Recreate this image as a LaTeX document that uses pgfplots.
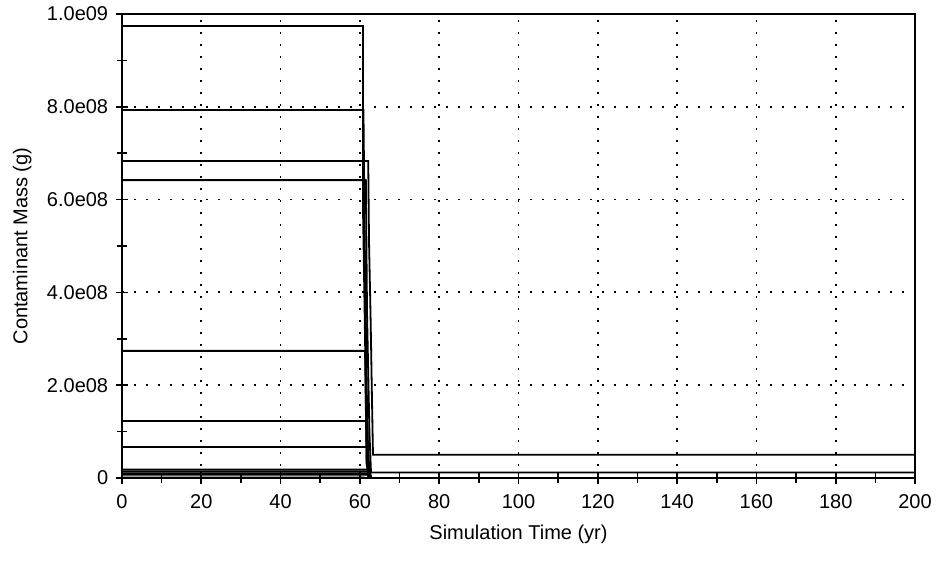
\documentclass[border=0pt]{standalone}
\usepackage{fontspec}
\setmainfont{Liberation Sans}
\usepackage{pgfplots}
\pgfplotsset{compat=1.18}
\begin{document}
\fontsize{20pt}{24pt}\selectfont
\begin{tikzpicture}[x=1pt,y=1pt]
\useasboundingbox (-122,-87) rectangle (816,478);
\begin{axis}[
  at={(0,0)}, anchor=south west,
  scale only axis, width=793pt, height=464pt,
  xmin=0, xmax=200, ymin=0, ymax=1e9,
  xtick={0,20,...,200},
  minor xtick={10,30,...,190},
  ytick={0,2e8,4e8,6e8,8e8,1e9},
  yticklabels={0,2.0e08,4.0e08,6.0e08,8.0e08,1.0e09},
  minor ytick={1e8,3e8,5e8,7e8,9e8},
  scaled y ticks=false,
  tick pos=left,
  tick align=center,
  major tick length=12pt, minor tick length=10pt,
  every tick/.style={black, line width=1.6pt},
  axis line style={black, line width=1.8pt},
  grid=major,
  major grid style={black, line width=1.8pt, dash pattern=on 1.8pt off 10.2pt},
  /pgf/number format/assume math mode=true,
  ticklabel style={font=\fontsize{20pt}{24pt}\selectfont},
  xticklabel style={yshift=-4pt},
  yticklabel style={xshift=-1pt},
  xlabel={Simulation Time (yr)},
  ylabel={Contaminant Mass (g)},
  label style={font=\fontsize{20pt}{24pt}\selectfont},
  xlabel style={yshift=-2pt},
  ylabel style={yshift=2pt},
  every axis plot post/.append style={black, solid, line width=1.8pt, mark=none},
]
% series: time (yr), mass (g)
\addplot coordinates {(0,9.74e8) (60.8,9.74e8) (60.8,5.7e8) (61.3,3.0e8) (61.7,0.4e8) (62.2,0) (200,0)};
\addplot coordinates {(0,7.93e8) (60.9,7.93e8) (61.2,5.2e8) (61.8,1.5e8) (62.2,0.1e8) (62.5,0) (200,0)};
\addplot coordinates {(0,6.83e8) (62.1,6.83e8) (62.3,5.1e8) (62.7,3.45e8) (63.05,1.68e8) (63.3,0.50e8) (200,0.50e8)};
\addplot coordinates {(0,6.42e8) (61.5,6.42e8) (61.8,3.56e8) (62.4,1.0e8) (62.8,0.12e8) (200,0.12e8)};
\addplot coordinates {(0,2.74e8) (61.3,2.74e8) (61.7,0.3e8) (62.3,0) (200,0)};
\addplot coordinates {(0,1.23e8) (61.8,1.23e8) (62.2,0.1e8) (62.6,0) (200,0)};
\addplot coordinates {(0,0.67e8) (62.0,0.67e8) (62.5,0.05e8) (62.9,0) (200,0)};
\addplot coordinates {(0,0.18e8) (62.2,0.18e8) (62.6,0) (200,0)};
\addplot coordinates {(0,0.14e8) (62.5,0.14e8) (62.9,0) (200,0)};
\addplot coordinates {(0,0.10e8) (61.8,0.10e8) (62.3,0) (200,0)};
\addplot coordinates {(0,0.07e8) (62.0,0.07e8) (62.4,0) (200,0)};
\addplot coordinates {(0,0.01e8) (61.0,0.01e8) (61.5,0) (200,0)};
\end{axis}
\end{tikzpicture}
\end{document}
